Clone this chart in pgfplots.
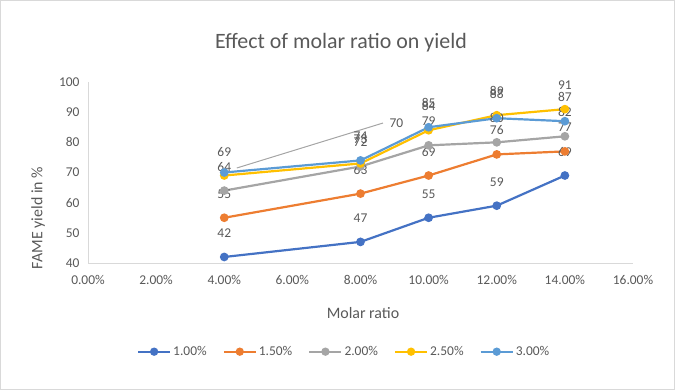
\documentclass[border=0pt]{standalone}
\usepackage{pgfplots}
\pgfplotsset{compat=1.18}
\usepackage{fontspec}
\setmainfont{Carlito}
\definecolor{s1}{HTML}{4472C4}
\definecolor{s2}{HTML}{ED7D31}
\definecolor{s3}{HTML}{A5A5A5}
\definecolor{s4}{HTML}{FFC000}
\definecolor{s5}{HTML}{5B9BD5}
\definecolor{txt}{HTML}{595959}
\definecolor{axl}{HTML}{D9D9D9}
\begin{document}
\begin{tikzpicture}
\useasboundingbox (0,0) rectangle (675bp,390bp);
\draw[axl] (0.5bp,0.5bp) rectangle (674.5bp,389.5bp);
\node[text=txt,font=\fontsize{22}{26}\selectfont] at (341bp,347bp) {Effect of molar ratio on yield};
\node[text=txt,font=\fontsize{16}{18}\selectfont,rotate=90] at (38bp,172bp) {FAME yield in \%};
\node[text=txt,font=\fontsize{16}{18}\selectfont] at (363bp,77bp) {Molar ratio};
\begin{axis}[
  at={(88bp,127bp)}, anchor=south west,
  scale only axis, width=545bp, height=181bp,
  xmin=0, xmax=16, ymin=40, ymax=100,
  xtick={0,2,...,16}, ytick={40,50,...,100},
  xticklabel={\pgfmathprintnumber[fixed,fixed zerofill,precision=2]{\tick}\%},
  /pgf/number format/assume math mode=true,
  ticklabel style={text=txt,font=\fontsize{13.5}{15}\selectfont},
  axis lines=left,
  axis line style={axl,line width=0.8bp,-},
  major tick length=0pt,
  xticklabel style={yshift=-9bp},
  yticklabel style={xshift=-5bp},
  clip=false,
  every axis plot/.append style={line width=2.2bp, mark=*, mark size=3.2bp},
  nodes near coords={\pgfmathprintnumber{\pgfplotspointmeta}},
  every node near coord/.append style={text=txt,font=\fontsize{13.5}{15}\selectfont,anchor=center,yshift=24bp},
  legend style={at={(0.47,-0.49)}, anchor=center, draw=none, fill=none,
    legend columns=5, font=\fontsize{13.5}{15}\selectfont, text=txt,
    /tikz/every even column/.append style={column sep=14bp}},
  legend image code/.code={\draw[mark repeat=2,mark phase=2,mark size=3bp] plot coordinates {(0bp,0bp) (16bp,0bp) (32bp,0bp)};},
]
\addplot[color=s1, mark options={fill=s1}] coordinates {(4,42) (8,47) (10,55) (12,59) (14,69)};
\addlegendentry{1.00\%}
\addplot[color=s2, mark options={fill=s2}] coordinates {(4,55) (8,63) (10,69) (12,76) (14,77)};
\addlegendentry{1.50\%}
\addplot[color=s3, mark options={fill=s3}] coordinates {(4,64) (8,72) (10,79) (12,80) (14,82)};
\addlegendentry{2.00\%}
\addplot[color=s4, mark options={fill=s4}] coordinates {(4,69) (8,73) (10,84) (12,89) (14,91)};
\addlegendentry{2.50\%}
\addplot[color=s5, mark options={fill=s5}, point meta=explicit symbolic,
  nodes near coords={\pgfplotspointmeta}] coordinates {(4,70)[] (8,74)[74] (10,85)[85] (12,88)[88] (14,87)[87]};
\addlegendentry{3.00\%}
\draw[color=s3, line width=1bp] (axis cs:4.37,71.5) -- (axis cs:8.66,86.4);
\node[text=txt,font=\fontsize{13.5}{15}\selectfont,anchor=west] at (axis cs:8.75,86.4) {70};
\end{axis}
\end{tikzpicture}
\end{document}
